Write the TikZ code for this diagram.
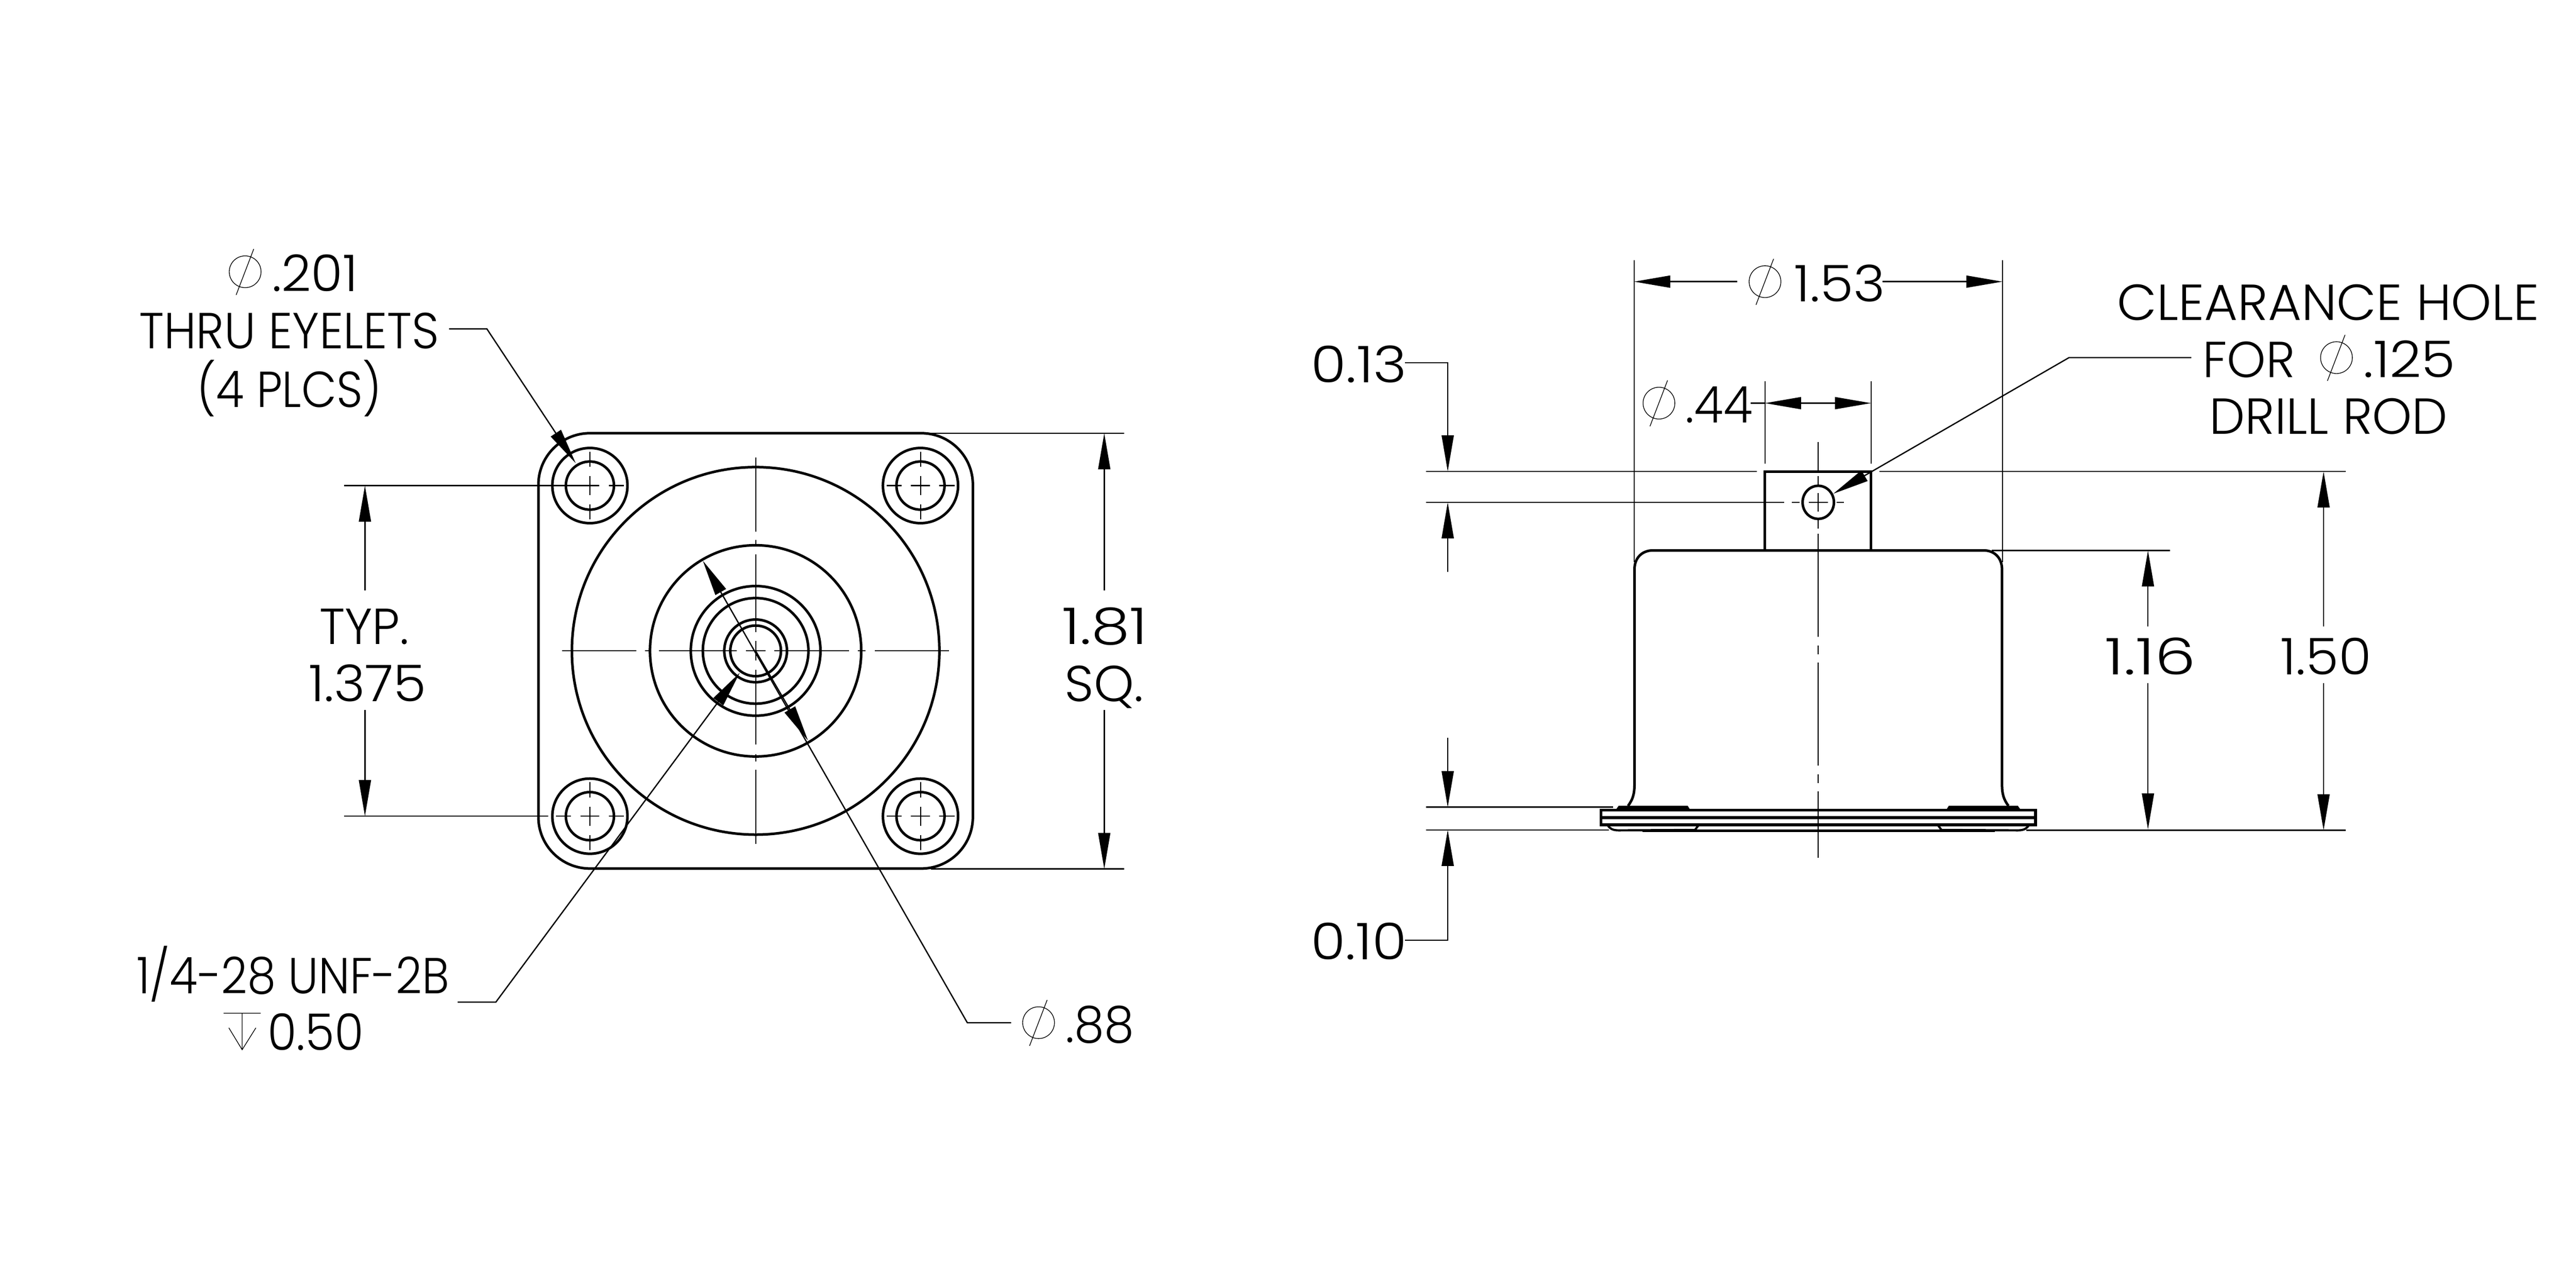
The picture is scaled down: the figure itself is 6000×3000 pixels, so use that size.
\documentclass[tikz,border=0pt]{standalone}
\usepackage{fontspec}
\usepackage{graphicx}
\usetikzlibrary{arrows.meta}
\setmainfont{Poppins Light}
\newcommand\lbl[5]{\node[anchor=base west,inner sep=0pt,outer sep=0pt] (#1) at (#2-7,#3+3) {\resizebox{\fpeval{(#4+14)*0.01}cm}{\height}{#5}};}
\newcommand\dia[2]{\draw[glyphln] (#1,#2) circle[radius=0.37cm] (#1+20,#2-53) -- (#1-21,#2+54);}
\begin{document}
\begin{tikzpicture}[x=0.01cm,y=-0.01cm,
  >={Triangle[length=0.84cm,width=0.28cm]},
  partln/.style={line width=0.06cm,line join=miter},
  thinln/.style={line width=0.03cm},
  ctrln/.style={line width=0.025cm},
  glyphln/.style={line width=0.016cm}]
\useasboundingbox (0,0) rectangle (6000,3000);
\fill[white] (0,0) rectangle (6000,3000);
\fontsize{33.5}{33.5}\selectfont
% ---------- plan view ----------
\draw[partln,rounded corners=1.2cm] (1254,1009) rectangle (2266,2023);
\foreach \r in {428,246,151,123,73,59} \draw[partln] (1760,1516) circle[radius=\r*0.01cm];
\foreach \x/\y in {1374/1131,2144/1131,1374/1901,2144/1901}{
  \draw[partln] (\x,\y) circle[radius=0.875cm] (\x,\y) circle[radius=0.56cm];
  \begin{scope}[shift={(\x,\y)}]
    \draw[ctrln] (-22,0) -- (22,0) (44,0) -- (79,0) (-79,0) -- (-44,0)
                 (0,-22) -- (0,22) (0,44) -- (0,79) (0,-79) -- (0,-44);
  \end{scope}
}
\foreach \a/\b in {1309/1482,1502/1517,1535/1716,1737/1783,1803/1978,1998/2016,2038/2210}
  \draw[ctrln] (\a,1516) -- (\b,1516);
\foreach \a/\b in {1065/1238,1258/1273,1291/1472,1493/1538,1560/1734,1757/1774,1793/1966}
  \draw[ctrln] (1760,\a) -- (1760,\b);
% extension lines, plan view
\draw[thinln] (801,1131) -- (1355,1131);
\draw[thinln] (801,1901) -- (1277,1901);
\draw[thinln] (2149,1009) -- (2618,1009);
\draw[thinln] (2168,2024) -- (2618,2024);
% dimensions, plan view
\coordinate (typA) at (850,1131); \coordinate (typB) at (850,1375);
\coordinate (typC) at (850,1654); \coordinate (typD) at (850,1901);
\draw[thinln,<-] (typA) -- (typB);
\draw[thinln,->] (typC) -- (typD);
\coordinate (sqA) at (2572,1009); \coordinate (sqB) at (2572,1375);
\coordinate (sqC) at (2572,1654); \coordinate (sqD) at (2572,2024);
\draw[thinln,<-] (sqA) -- (sqB);
\draw[thinln,->] (sqC) -- (sqD);
% leaders, plan view
\coordinate (eyS) at (1046,766); \coordinate (eyK) at (1134,766); \coordinate (eyT) at (1341,1079);
\draw[thinln,->] (eyS) -- (eyK) -- (eyT);
\coordinate (unS) at (1066,2334); \coordinate (unK) at (1155,2334); \coordinate (unT) at (1723,1567);
\draw[thinln,->] (unS) -- (unK) -- (unT);
\coordinate (phA) at (1637,1306); \coordinate (phB) at (1882,1725);
\coordinate (phK) at (2253,2382); \coordinate (phS) at (2355,2382);
\draw[thinln,<-] (phA) -- (phK) -- (phS);
\draw[thinln,->] (1760,1516) -- (phB);
% ---------- elevation ----------
\draw[partln] (3792,1877) .. controls (3803,1862) and (3807,1850) .. (3807,1826)
  -- (3807,1326) .. controls (3807,1300) and (3824,1282) .. (3850,1282)
  -- (4620,1282) .. controls (4646,1282) and (4663,1300) .. (4663,1326)
  -- (4663,1826) .. controls (4663,1850) and (4667,1862) .. (4678,1877);
\draw[partln] (4111,1282) -- (4111,1098) -- (4358,1098) -- (4358,1282);
\draw[line width=0.07cm] (3729,1887) rectangle (4741,1921) (3729,1904) -- (4741,1904);
\fill[black] (3762,1888) -- (3770,1877) -- (3931,1877) -- (3938,1888) -- cycle;
\fill[black] (4708,1888) -- (4700,1877) -- (4539,1877) -- (4532,1888) -- cycle;
\draw[line width=0.05cm] (3744,1921) .. controls (3749,1930) and (3756,1934) .. (3770,1934) -- (3948,1933) -- (3957,1921);
\draw[line width=0.05cm] (4726,1921) .. controls (4721,1930) and (4714,1934) .. (4700,1934) -- (4522,1933) -- (4513,1921);
\draw[line width=0.07cm] (3825,1935) -- (4646,1935);
\draw[partln] (4235,1170) ellipse[x radius=0.365cm,y radius=0.385cm];
\foreach \a/\b in {1029/1097,1109/1129,1148/1192,1211/1231,1243/1483,1504/1524,1543/1783,1803/1824,1843/1998}
  \draw[ctrln] (4235,\a) -- (4235,\b);
\foreach \a/\b in {4173/4191,4213/4257,4278/4295}
  \draw[ctrln] (\a,1170) -- (\b,1170);
% extension lines, elevation
\draw[thinln] (3322,1098) -- (4092,1098);
\draw[thinln] (4377,1098) -- (5463,1098);
\draw[thinln] (3322,1170) -- (4155,1170);
\draw[thinln] (4639,1282) -- (5054,1282);
\draw[thinln] (3322,1880) -- (3757,1880);
\draw[thinln] (3322,1933) -- (3748,1933);
\draw[thinln] (4719,1934) -- (5463,1934);
\draw[ctrln] (3806,606) -- (3806,1309);
\draw[ctrln] (4664,606) -- (4664,1309);
\draw[ctrln] (4111,888) -- (4111,1080);
\draw[ctrln] (4358,888) -- (4358,1080);
% dimensions, elevation
\coordinate (odA) at (3806,656); \coordinate (odB) at (4046,656);
\coordinate (odC) at (4385,656); \coordinate (odD) at (4664,656);
\draw[thinln,<-] (odA) -- (odB);
\draw[thinln,->] (odC) -- (odD);
\coordinate (stA) at (4111,939); \coordinate (stB) at (4358,939); \coordinate (stS) at (4078,939);
\draw[thinln] (stS) -- (stA);
\draw[thinln,<->] (stA) -- (stB);
\coordinate (hhA) at (5003,1282); \coordinate (hhB) at (5003,1459);
\coordinate (hhC) at (5003,1591); \coordinate (hhD) at (5003,1932);
\draw[thinln,<-] (hhA) -- (hhB);
\draw[thinln,->] (hhC) -- (hhD);
\coordinate (htA) at (5412,1098); \coordinate (htB) at (5412,1459);
\coordinate (htC) at (5412,1591); \coordinate (htD) at (5412,1934);
\draw[thinln,<-] (htA) -- (htB);
\draw[thinln,->] (htC) -- (htD);
\coordinate (oneS) at (3272,845); \coordinate (oneK) at (3372,845); \coordinate (oneT) at (3372,1098);
\draw[thinln,->] (oneS) -- (oneK) -- (oneT);
\coordinate (oneB) at (3372,1332); \coordinate (oneU) at (3372,1170);
\draw[thinln,->] (oneB) -- (oneU);
\coordinate (tenS) at (3272,2190); \coordinate (tenK) at (3372,2190); \coordinate (tenT) at (3372,1933);
\draw[thinln,->] (tenS) -- (tenK) -- (tenT);
\coordinate (tenB) at (3372,1718); \coordinate (tenU) at (3372,1880);
\draw[thinln,->] (tenB) -- (tenU);
\coordinate (clS) at (5104,833); \coordinate (clK) at (4819,833); \coordinate (clT) at (4270,1150);
\draw[thinln,->] (clS) -- (clK) -- (clT);
% ---------- texts ----------
\dia{571}{633}
\lbl{t201}{641}{676}{186}{.201}
\lbl{tthru}{331}{809}{685}{THRU EYELETS}
\lbl{tplcs}{466}{946}{416}{(4 PLCS)}
\lbl{tunf}{325}{2311}{714}{1/4-28 UNF-2B}
\draw[glyphln] (521,2360) -- (607,2360) (564,2360) -- (564,2445) (533,2394) -- (564,2445) -- (596,2394);
\lbl{t050}{630}{2443}{210}{0.50}
\dia{2419}{2382}
\lbl{t88}{2489}{2425}{145}{.88}
\lbl{ttyp}{751}{1497}{194}{TYP.}
\lbl{t1375}{726}{1631}{260}{1.375}
\lbl{t181}{2481}{1497}{185}{1.81}
\lbl{tsq}{2487}{1631}{169}{SQ.}
\lbl{t013}{3060}{888}{210}{0.13}
\lbl{t010}{3060}{2232}{210}{0.10}
\dia{4111}{656}
\lbl{t153}{4186}{699}{198}{1.53}
\dia{3864}{939}
\lbl{t44}{3933}{982}{142}{.44}
\lbl{tclear}{4938}{743}{969}{CLEARANCE HOLE}
\lbl{tfor}{5137}{876}{201}{FOR}
\dia{5442}{833}
\lbl{t125}{5512}{876}{200}{.125}
\lbl{tdrill}{5153}{1008}{541}{DRILL ROD}
\lbl{t116}{4910}{1568}{198}{1.16}
\lbl{t150}{5319}{1568}{198}{1.50}
\end{tikzpicture}
\end{document}
